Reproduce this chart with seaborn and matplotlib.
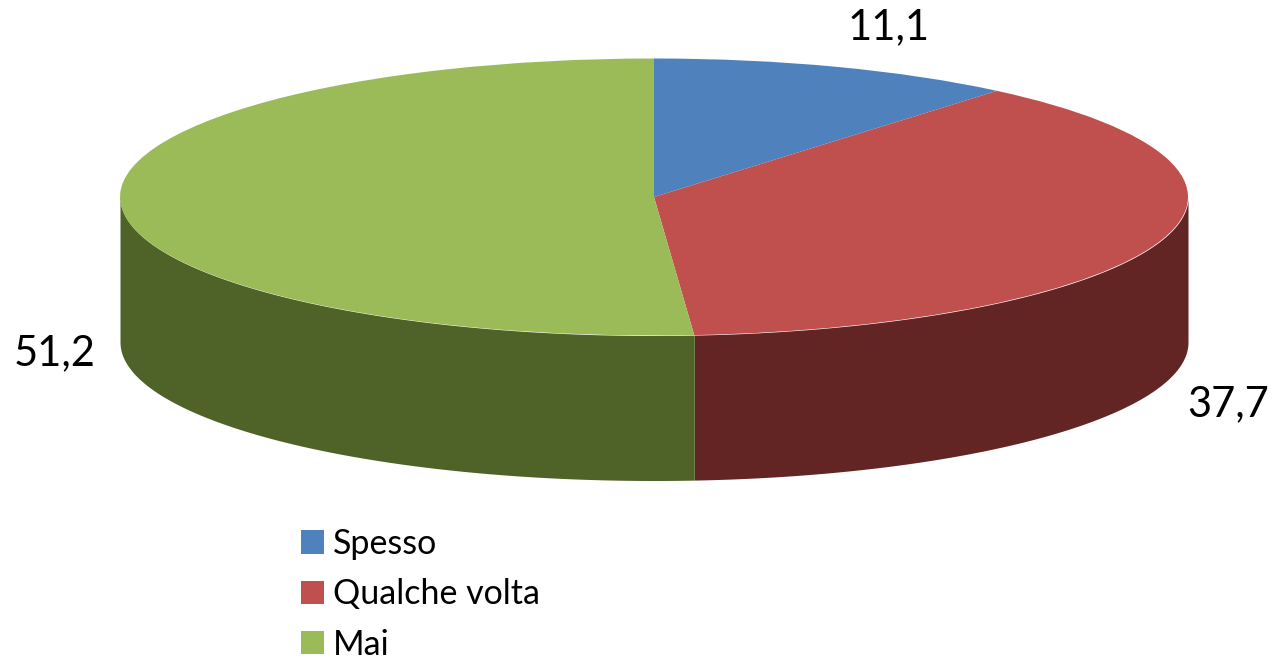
import numpy as np
import matplotlib
matplotlib.use("Agg")
import matplotlib.pyplot as plt
import seaborn as sns

categories = ["Spesso", "Qualche volta", "Mai"]
values = [11.1, 37.7, 51.2]
value_labels = ["11,1", "37,7", "51,2"]
top_colors = ["#4F81BD", "#C0504D", "#9BBB59"]
side_colors = ["#385D8A", "#632523", "#4F6228"]

W, H = 1274, 660
CX, CY, RX, RY, DEPTH = 654, 197, 534, 138.5, 145

sns.set_theme(style="white")
plt.rcParams["font.family"] = ["Lato", "DejaVu Sans"]

fig = plt.figure(figsize=(W / 100, H / 100), dpi=100)
ax = fig.add_axes([0, 0, 1, 1])


def px(x, y):
    return (x - CX) / RX, (CY - y) / RY


wedges, _ = ax.pie(values, colors=top_colors, startangle=90, counterclock=False,
                   radius=1, wedgeprops={"linewidth": 0, "zorder": 3})
ax.set_aspect("auto")
ax.set_xlim(px(0, 0)[0], px(W, 0)[0])
ax.set_ylim(px(0, H)[1], px(0, 0)[1])
ax.axis("off")

# side walls: only the front half (90..270 degrees clockwise from the top) shows
edges = np.cumsum([0] + values) / np.sum(values) * 360
depth = DEPTH / RY
for start, stop, colour in zip(edges[:-1], edges[1:], side_colors):
    lo, hi = max(start, 90), min(stop, 270)
    if lo >= hi:
        continue
    theta = np.radians(np.linspace(lo, hi, 200))
    ax.fill_between(np.sin(theta), np.cos(theta), np.cos(theta) - depth,
                    color=colour, linewidth=0, zorder=2)

label_pos = [(889, 27), (1228, 404), (55, 353)]
for text, (x, y) in zip(value_labels, label_pos):
    ax.text(*px(x, y), text, ha="center", va="center", fontsize=30, color="black", zorder=5)

leg = ax.legend(wedges, categories, loc="upper left",
                bbox_to_anchor=(294 / W, 1 - 521 / H), frameon=False,
                fontsize=24.5, handlelength=0.68, handleheight=0.68,
                labelspacing=0.54, handletextpad=0.27, borderpad=0.2, borderaxespad=0)
for t in leg.get_texts():
    t.set_color("black")

fig.savefig("out.png", dpi=100)
